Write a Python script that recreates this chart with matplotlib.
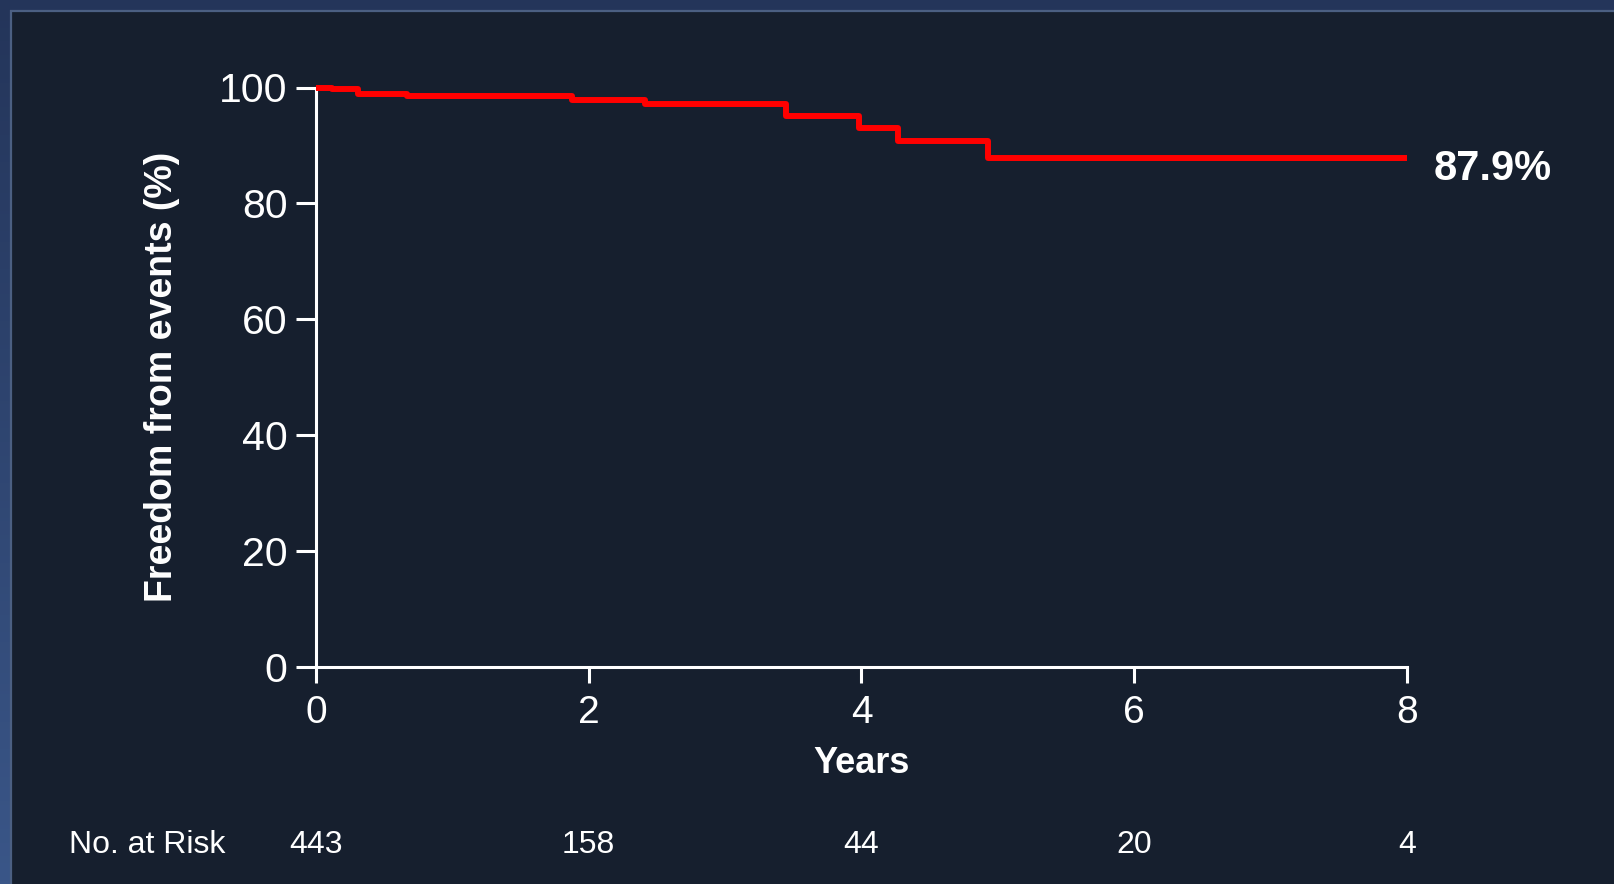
import numpy as np
import matplotlib
matplotlib.use("Agg")
import matplotlib.pyplot as plt
from matplotlib.patches import Rectangle
from matplotlib.colors import LinearSegmentedColormap

# Kaplan-Meier estimate: freedom from events (%)
years = [0.0, 0.115, 0.31, 0.665, 1.875, 2.41, 3.445, 3.98, 4.27, 4.93, 8.0]
freedom = [100.0, 99.7, 98.9, 98.5, 97.9, 97.1, 95.1, 93.0, 90.7, 87.9, 87.9]
final_label = "87.9%"

# Numbers at risk below the x axis
risk_years = [0, 2, 4, 6, 8]
risk_counts = [443, 158, 44, 20, 4]

x_ticks = [0, 2, 4, 6, 8]
y_ticks = [0, 20, 40, 60, 80, 100]

W, H, DPI = 1615, 884, 100
fig = plt.figure(figsize=(W / DPI, H / DPI), dpi=DPI)
plt.rcParams["font.family"] = ["Liberation Sans", "DejaVu Sans"]

# Slide background: bluish frame on top/left, dark panel inside
bg = fig.add_axes([0, 0, 1, 1], zorder=-10)
bg.set_xlim(0, W)
bg.set_ylim(0, H)
bg.axis("off")
frame = LinearSegmentedColormap.from_list("frame", ["#3a5688", "#24355a"])
grad = np.linspace(0, 1, 256).reshape(-1, 1)
bg.imshow(grad, cmap=frame, aspect="auto", extent=[0, W, 0, H], origin="lower")
bg.add_patch(Rectangle((11, -10), W, H - 11 + 10, facecolor="#161f2e",
                       edgecolor="#4b5f82", linewidth=1.6))

ax = fig.add_axes([316 / W, (H - 667) / H, (1407 - 316) / W, (667 - 87.5) / H])
ax.set_facecolor("none")

ax.step(years, freedom, where="post", color="#ff0000", linewidth=4.3,
        solid_joinstyle="round", solid_capstyle="butt", clip_on=False,
        zorder=3)

ax.set_xlim(0, 8)
ax.set_ylim(0, 100)
ax.set_xticks(x_ticks)
ax.set_yticks(y_ticks)
for side in ("top", "right"):
    ax.spines[side].set_visible(False)
for side in ("left", "bottom"):
    ax.spines[side].set_color("white")
    ax.spines[side].set_linewidth(2.2)

ax.tick_params(axis="y", direction="out", length=14.5, width=2.2,
               colors="white", labelsize=29.5, pad=6)
ax.tick_params(axis="x", direction="out", length=11.5, width=2.2,
               colors="white", labelsize=28, pad=9)

ax.set_xlabel("Years", fontsize=26, fontweight="bold", color="white",
              va="center")
ax.xaxis.set_label_coords(0.5, -0.1665)
ax.set_ylabel("Freedom from events (%)", fontsize=27, fontweight="bold",
              color="white", va="center")
ax.yaxis.set_label_coords(-0.141, 0.5)

# Final estimate next to the end of the curve
ax.annotate(final_label, xy=(years[-1], freedom[-1]), xytext=(19, -8),
            textcoords="offset points", ha="left", va="center",
            fontsize=30, fontweight="bold", color="white",
            annotation_clip=False)

# Number-at-risk row
risk_y = (667 - 845) / (667 - 87.5)
ax.text((69 - 316) / (1407 - 316), risk_y, "No. at Risk",
        transform=ax.transAxes, ha="left", va="center",
        fontsize=23, color="white")
for yr, n in zip(risk_years, risk_counts):
    ax.text(yr, risk_y, str(n), transform=ax.get_xaxis_transform(),
            ha="center", va="center", fontsize=23, color="white")

fig.savefig("out.png", dpi=DPI)
